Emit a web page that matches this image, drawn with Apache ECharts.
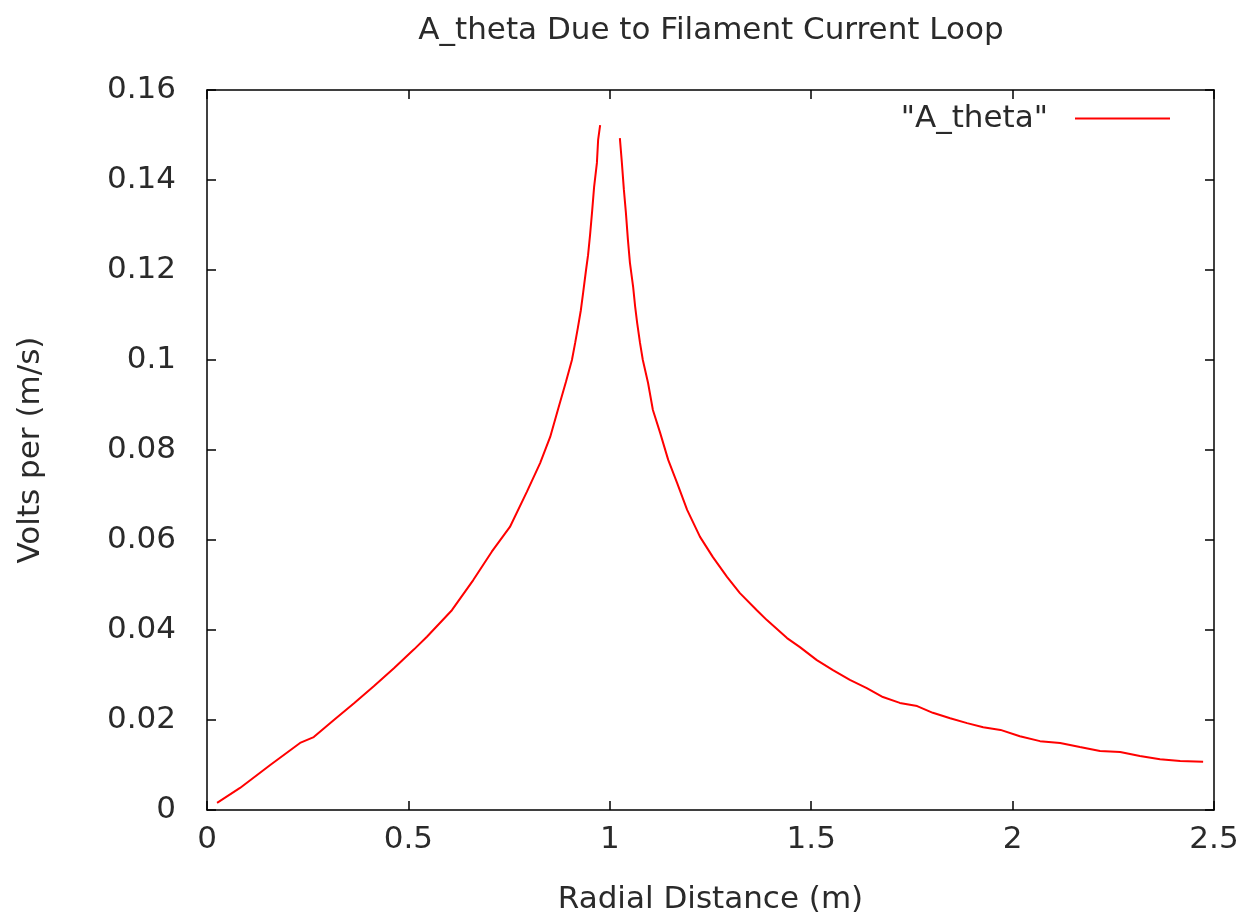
<!DOCTYPE html>
<html>
<head>
<meta charset="utf-8">
<script src="https://cdn.jsdelivr.net/npm/echarts@6/dist/echarts.min.js"></script>
<style>
  html, body { margin: 0; padding: 0; background: #fff; }
  #chart { width: 1246px; height: 921px; }
</style>
</head>
<body>
<div id="chart"></div>
<script>
// radial distance (m) and A_theta, inner branch (r < 1)
var innerR = [0.025, 0.082, 0.157, 0.231, 0.265, 0.315, 0.365, 0.414, 0.464, 0.514,
  0.546, 0.608, 0.661, 0.707, 0.752, 0.794, 0.827, 0.852, 0.871, 0.891,
  0.906, 0.914, 0.921, 0.928, 0.934, 0.941, 0.946, 0.951, 0.956, 0.961,
  0.968, 0.971, 0.976];
var innerA = [0.0016, 0.0049, 0.0100, 0.0149, 0.0162, 0.0200, 0.0237, 0.0275, 0.0315, 0.0357,
  0.0385, 0.0444, 0.0511, 0.0574, 0.0629, 0.0707, 0.0771, 0.0829, 0.0889, 0.0951,
  0.1000, 0.1038, 0.1073, 0.1110, 0.1151, 0.1200, 0.1233, 0.1278, 0.1329, 0.1384,
  0.1438, 0.1489, 0.1522];

// outer branch (r > 1)
var outerR = [1.025, 1.030, 1.035, 1.040, 1.045, 1.050, 1.058, 1.063, 1.068, 1.075,
  1.082, 1.095, 1.107, 1.125, 1.145, 1.167, 1.192, 1.224, 1.256, 1.291,
  1.323, 1.365, 1.390, 1.440, 1.472, 1.514, 1.554, 1.596, 1.638, 1.678,
  1.720, 1.763, 1.802, 1.845, 1.887, 1.927, 1.970, 2.018, 2.068, 2.118,
  2.167, 2.217, 2.267, 2.316, 2.366, 2.416, 2.473];
var outerA = [0.1493, 0.1438, 0.1378, 0.1327, 0.1267, 0.1216, 0.1162, 0.1118, 0.1082, 0.1038,
  0.1000, 0.0949, 0.0889, 0.0838, 0.0778, 0.0727, 0.0667, 0.0607, 0.0562, 0.0518,
  0.0482, 0.0444, 0.0422, 0.0382, 0.0362, 0.0333, 0.0311, 0.0289, 0.0271, 0.0251,
  0.0238, 0.0231, 0.0216, 0.0204, 0.0193, 0.0184, 0.0178, 0.0164, 0.0153, 0.0149,
  0.0140, 0.0131, 0.0129, 0.0120, 0.0113, 0.0109, 0.0107];

var xTicks = [0, 0.5, 1, 1.5, 2, 2.5];
var yTicks = [0, 0.02, 0.04, 0.06, 0.08, 0.1, 0.12, 0.14, 0.16];

var seriesName = '"A_theta"';
var font = 'DejaVu Sans';
var fs = 31;
var txt = '#2a2a2a';

function pairs(xs, ys) {
  var out = [];
  for (var i = 0; i < xs.length; i++) out.push([xs[i], ys[i]]);
  return out;
}

function axisBase(min, max, interval) {
  return {
    type: 'value',
    min: min,
    max: max,
    interval: interval,
    splitLine: { show: false },
    axisLine: { show: true, onZero: false, lineStyle: { color: '#000', width: 1.5 } },
    axisTick: { show: true, inside: true, length: 9, lineStyle: { color: '#000', width: 1.5 } }
  };
}

var xBottom = axisBase(xTicks[0], xTicks[xTicks.length - 1], 0.5);
xBottom.position = 'bottom';
xBottom.axisLabel = { show: true, margin: 14, fontFamily: font, fontSize: fs, color: txt };
xBottom.name = 'Radial Distance (m)';
xBottom.nameLocation = 'middle';
xBottom.nameGap = 74;
xBottom.nameTextStyle = { fontFamily: font, fontSize: fs, color: txt };

var xTop = axisBase(xTicks[0], xTicks[xTicks.length - 1], 0.5);
xTop.position = 'top';
xTop.axisLabel = { show: false };

var yLeft = axisBase(yTicks[0], yTicks[yTicks.length - 1], 0.02);
yLeft.position = 'left';
yLeft.axisLabel = { show: true, margin: 31, fontFamily: font, fontSize: fs, color: txt };
yLeft.name = 'Volts per (m/s)';
yLeft.nameLocation = 'middle';
yLeft.nameGap = 161;
yLeft.nameTextStyle = { fontFamily: font, fontSize: fs, color: txt };

var yRight = axisBase(yTicks[0], yTicks[yTicks.length - 1], 0.02);
yRight.position = 'right';
yRight.axisLabel = { show: false };

var lineStyle = { color: '#ff0000', width: 2 };

var chart = echarts.init(document.getElementById('chart'), null, { renderer: 'canvas' });
chart.setOption({
  animation: false,
  backgroundColor: '#fff',
  title: {
    text: 'A_theta Due to Filament Current Loop',
    left: 706,
    textAlign: 'center',
    top: 10,
    textStyle: { fontFamily: font, fontSize: fs, fontWeight: 'normal', color: txt }
  },
  legend: {
    data: [seriesName],
    right: 71,
    top: 98,
    align: 'right',
    icon: 'rect',
    itemWidth: 95,
    itemHeight: 2,
    itemGap: 0,
    textStyle: { fontFamily: font, fontSize: fs, color: txt, padding: [0, 22, 0, 0] }
  },
  grid: { left: 207, right: 32, top: 90, bottom: 111, containLabel: false },
  xAxis: [xBottom, xTop],
  yAxis: [yLeft, yRight],
  series: [
    {
      name: seriesName,
      type: 'line',
      xAxisIndex: 0,
      yAxisIndex: 0,
      symbol: 'none',
      itemStyle: { color: '#ff0000' },
      lineStyle: lineStyle,
      data: pairs(innerR, innerA)
    },
    {
      name: seriesName,
      type: 'line',
      xAxisIndex: 0,
      yAxisIndex: 0,
      symbol: 'none',
      itemStyle: { color: '#ff0000' },
      lineStyle: lineStyle,
      data: pairs(outerR, outerA)
    }
  ]
});
</script>
</body>
</html>
